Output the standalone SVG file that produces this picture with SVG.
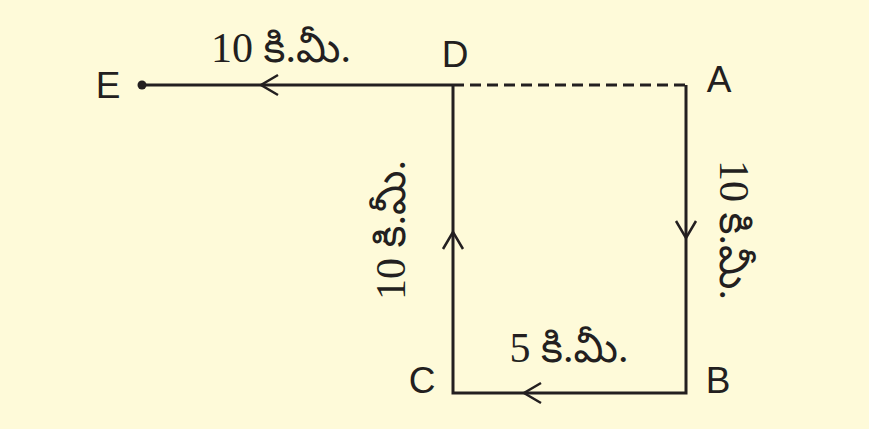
<svg xmlns="http://www.w3.org/2000/svg" width="869" height="429" viewBox="0 0 869 429">
<style>
.ln{stroke:#231f20;stroke-width:3;fill:none}
.ar{stroke:#231f20;stroke-width:2.5;fill:none}
.lb{font-family:"Liberation Sans",Arial,sans-serif;font-size:37px;fill:#231f20}
.km{font-family:"Liberation Serif","Noto Sans Telugu","Noto Serif Telugu",serif;font-size:42px;fill:#231f20}
</style>
<rect width="869" height="429" fill="#fefad9"/>
<g id="connectors">
<line class="ln" x1="142" y1="85" x2="453" y2="85"/>
<line class="ln" x1="453" y1="85" x2="686" y2="85" stroke-dasharray="11,6"/>
<polyline class="ln" points="686,85 686,393 453,393 453,85"/>
<polyline class="ar" points="278,75 261,85 278,95"/>
<polyline class="ar" points="443,249 453,232 463,249"/>
<polyline class="ar" points="676,221 686,238 696,221"/>
<polyline class="ar" points="541,383 524,393 541,403"/>
</g>
<g id="E"><circle cx="142" cy="85" r="4.5" fill="#231f20"/><text class="lb" x="108" y="98" text-anchor="middle">E</text></g>
<g id="D"><text class="lb" x="455" y="67" text-anchor="middle">D</text></g>
<g id="A"><text class="lb" x="719" y="92" text-anchor="middle">A</text></g>
<g id="B"><text class="lb" x="718" y="393" text-anchor="middle">B</text></g>
<g id="C"><text class="lb" x="422" y="393" text-anchor="middle">C</text></g>
<g id="labels">
<text class="km" x="281" y="62" text-anchor="middle">10 కి.మీ.</text>
<text class="km" x="569" y="362" text-anchor="middle">5 కి.మీ.</text>
<text class="km" transform="translate(405,230) rotate(-90)" text-anchor="middle">10 కి.మీ.</text>
<text class="km" transform="translate(720,230) rotate(90)" text-anchor="middle">10 కి.మీ.</text>
</g>
</svg>
